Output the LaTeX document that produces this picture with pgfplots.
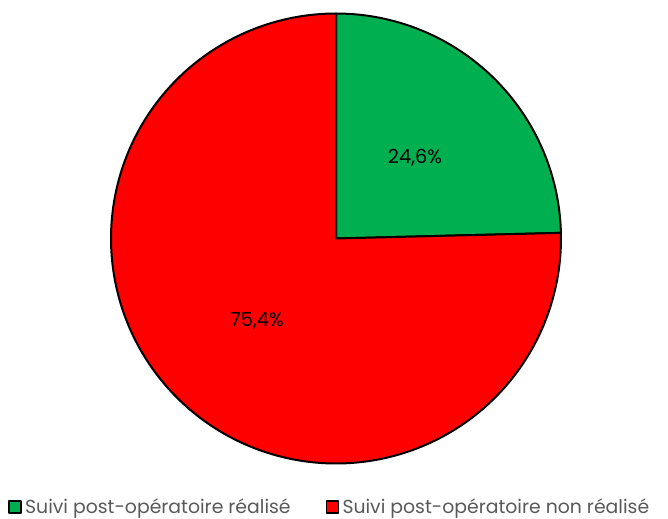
\documentclass[border=0pt]{standalone}
\usepackage{pgfplots}
\pgfplotsset{compat=1.18}
\usepackage{fontspec}
\setmainfont{Poppins}
\definecolor{pgreen}{HTML}{00B050}
\definecolor{pred}{HTML}{FF0000}
\definecolor{lgray}{HTML}{595959}
% data (percentages)
\def\vA{24.6}
\def\vB{75.4}
\begin{document}
\begin{tikzpicture}
\pgfmathsetmacro{\aStart}{90}
\pgfmathsetmacro{\aMid}{90-3.6*\vA}
\pgfmathsetmacro{\aEnd}{\aMid-3.6*\vB}
\def\cx{336}\def\cy{279.5}\def\R{225}
\begin{axis}[
  scale only axis, width=400.8pt, height=310.8pt,
  xmin=0, xmax=668, ymin=0, ymax=518,
  hide axis, clip=false,
  legend columns=2,
  legend style={at={(axis cs:8,11)}, anchor=west, draw=none, fill=none,
    inner sep=0pt, font=\fontsize{11.3}{13}\selectfont\color{lgray},
    /tikz/every even column/.append style={column sep=19pt},
    cells={anchor=west}},
  legend image code/.code={\draw[#1, draw=black, line width=0.9pt] (0pt,-3.6pt) rectangle (7.2pt,3.6pt);},
]
\path (rel axis cs:0,0) (rel axis cs:1,1);
\addplot[fill=pgreen, draw=black, line width=1.2pt, line join=round, domain=\aMid:\aStart, samples=80, variable=\t]
  ({\cx+\R*cos(t)},{\cy+\R*sin(t)}) -- (axis cs:\cx,\cy) -- cycle;
\addlegendentry{Suivi post-opératoire réalisé}
\addplot[fill=pred, draw=black, line width=1.2pt, line join=round, domain=\aEnd:\aMid, samples=200, variable=\t]
  ({\cx+\R*cos(t)},{\cy+\R*sin(t)}) -- (axis cs:\cx,\cy) -- cycle;
\addlegendentry{Suivi post-opératoire non réalisé}
\node[font=\fontsize{11.6}{13}\selectfont] at (axis cs:415,360) {24,6\%};
\node[font=\fontsize{11.6}{13}\selectfont] at (axis cs:257,197) {75,4\%};
\end{axis}
\end{tikzpicture}
\end{document}
